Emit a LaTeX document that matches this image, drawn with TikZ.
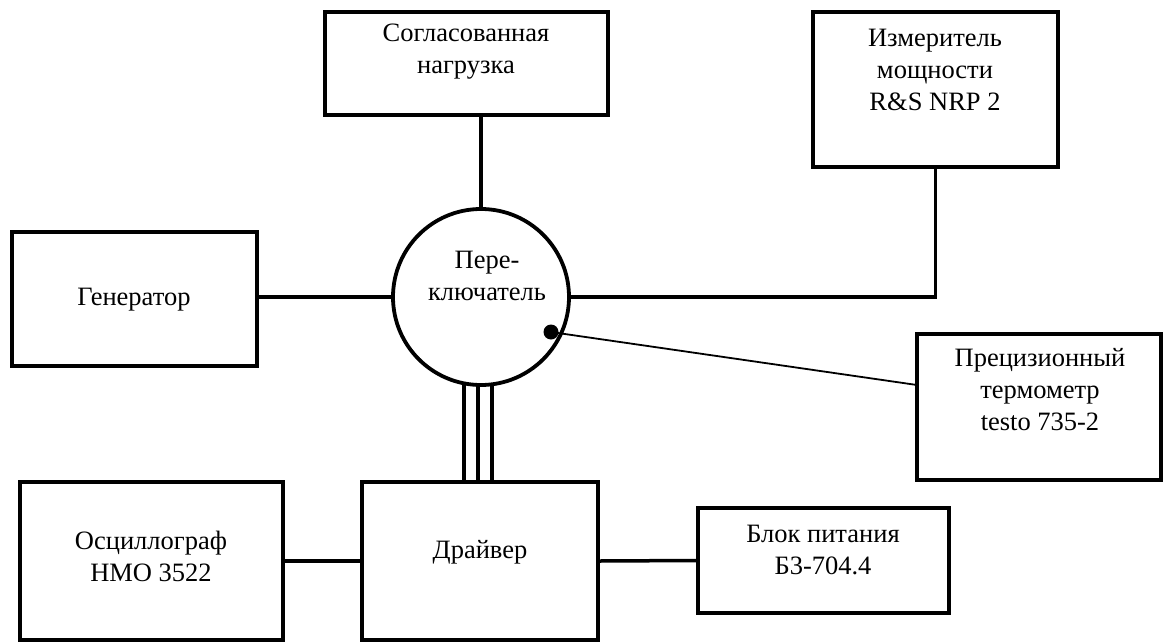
\documentclass[tikz,border=0pt]{standalone}
\usepackage{fontspec}
\setmainfont{Liberation Serif}
\usetikzlibrary{backgrounds}
\begin{document}
\begin{tikzpicture}[x=1pt,y=-1pt,
  box/.style={draw, line width=3.8pt, fill=white, inner sep=0pt},
  lbl/.style={align=center, inner sep=0pt, font=\fontsize{26.5}{32}\selectfont},
  wire/.style={line width=3.5pt},
  thinwire/.style={line width=3.4pt},
  probe/.style={line width=1.8pt}]
\useasboundingbox (0,0) rectangle (1163,643);
% boxes
\node[box, minimum width=283pt, minimum height=103pt] (load) at (466.5,63.5) {};
\node[box, minimum width=245pt, minimum height=155pt] (meter) at (935.5,89.5) {};
\node[box, minimum width=245pt, minimum height=134pt] (gen) at (134.5,299) {};
\node[box, minimum width=244pt, minimum height=146pt] (therm) at (1039,407) {};
\node[box, minimum width=263pt, minimum height=158pt] (osc) at (151.5,561) {};
\node[box, minimum width=236pt, minimum height=158pt] (drv) at (480,561) {};
\node[box, minimum width=251pt, minimum height=105pt] (psu) at (823.5,560.5) {};
\node[draw, circle, line width=3.8pt, fill=white, minimum size=176pt, inner sep=0pt] (sw) at (481,297) {};
% texts
\node[lbl] (tload) at (466,52) {Согласованная\\нагрузка};
\node[lbl] (tmeter) at (935,70) {Измеритель\\мощности\\R\&S NRP 2};
\node[lbl] (tgen) at (134,300) {Генератор};
\node[lbl] (ttherm) at (1040,390) {Прецизионный\\термометр\\testo 735-2};
\node[lbl] (tosc) at (151,556) {Осциллограф\\HMO 3522};
\node[lbl] (tdrv) at (480,552) {Драйвер};
\node[lbl] (tpsu) at (823,550) {Блок питания\\Б3-704.4};
\node[lbl] (tsw) at (487,276) {Пере-\\ключатель};
% probe dot
\node[circle, fill=black, minimum size=15pt, inner sep=0pt] (dot) at (551,332) {};
\coordinate (tin) at (917,385);
% connectors
\begin{scope}[on background layer]
  \draw[wire] (gen.east |- sw.center) -- (sw.center);
  \draw[wire] (sw.center) -- (sw.center |- load.south);
  \draw[wire] (sw.center) -- (sw.center -| meter.south) -- (meter.south);
  \draw[thinwire] ([xshift=-17pt]sw.center) -- ([xshift=-17pt]sw.center |- drv.north);
  \draw[thinwire] ([xshift=-3pt]sw.center) -- ([xshift=-3pt]sw.center |- drv.north);
  \draw[thinwire] ([xshift=11pt]sw.center) -- ([xshift=11pt]sw.center |- drv.north);
  \draw[wire] (osc.east) -- (drv.west);
  \draw[wire] (drv.east) -- (psu.west);
\end{scope}
\draw[probe] (dot.center) -- (tin);
\end{tikzpicture}
\end{document}
